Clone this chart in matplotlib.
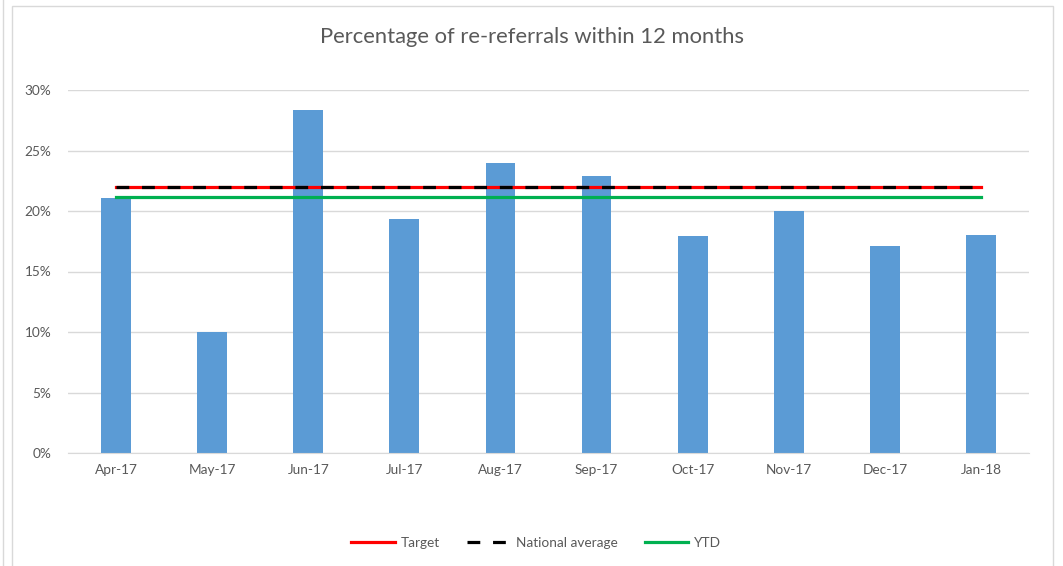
import matplotlib
matplotlib.use('Agg')
from matplotlib import pyplot as plt
from matplotlib.patches import Rectangle
import numpy as np

months = ['Apr-17', 'May-17', 'Jun-17', 'Jul-17', 'Aug-17', 'Sep-17',
          'Oct-17', 'Nov-17', 'Dec-17', 'Jan-18']
rereferrals = [21.1, 10.0, 28.35, 19.35, 24.0, 22.9, 17.95, 20.0, 17.1, 18.05]
target = [22.0] * 10
national_avg = [22.0] * 10
ytd = [21.15] * 10

plt.rcParams['font.family'] = ['Lato', 'DejaVu Sans']
grey = '#595959'

fig = plt.figure(figsize=(10.63, 5.66), dpi=100)
ax = fig.add_axes([68 / 1063, 1 - 453 / 566, (1029 - 68) / 1063, (453 - 90) / 566])

x = np.arange(len(months))
ax.bar(x, rereferrals, width=0.31, color='#5b9bd5', zorder=2)
ax.plot(x, target, color='#ff0000', lw=2.3, zorder=3, label='Target')
ax.plot(x, national_avg, color='black', lw=2.3, dashes=(4, 4), zorder=4,
        label='National average')
ax.plot(x, ytd, color='#00b050', lw=2.3, zorder=3, label='YTD')

ax.set_xlim(-0.5, len(months) - 0.5)
ax.set_ylim(0, 30)
ax.set_yticks(range(0, 31, 5))
ax.set_yticklabels([f'{v}%' for v in range(0, 31, 5)])
ax.set_xticks(x)
ax.set_xticklabels(months)
ax.tick_params(length=0, colors=grey, labelsize=9.8, pad=8)
ax.tick_params(axis='y', pad=12)
ax.grid(axis='y', color='#d9d9d9', lw=1, zorder=0)
for side in ['top', 'right', 'left']:
    ax.spines[side].set_visible(False)
ax.spines['bottom'].set_color('#d9d9d9')

fig.text(532 / 1063, 1 - 37 / 566, 'Percentage of re-referrals within 12 months',
         ha='center', va='center', fontsize=15.8, color=grey)

handles, labels = ax.get_legend_handles_labels()
fig.legend(handles, labels, loc='center', bbox_to_anchor=(536 / 1063, 1 - 543 / 566),
           ncol=3, frameon=False, fontsize=9.8, labelcolor=grey,
           handlelength=3.2, columnspacing=2.0, handletextpad=0.4)

# chart frame
fig.patches.append(Rectangle((12 / 1063, -0.05), (1053 - 12) / 1063, 1.05 - 6 / 566,
                             transform=fig.transFigure, fill=False,
                             edgecolor='#d9d9d9', lw=1))
fig.lines.append(plt.Line2D([3 / 1063, 3 / 1063], [0, 1], transform=fig.transFigure,
                            color='#d9d9d9', lw=1))

fig.savefig('out.png', dpi=100, facecolor='white')
